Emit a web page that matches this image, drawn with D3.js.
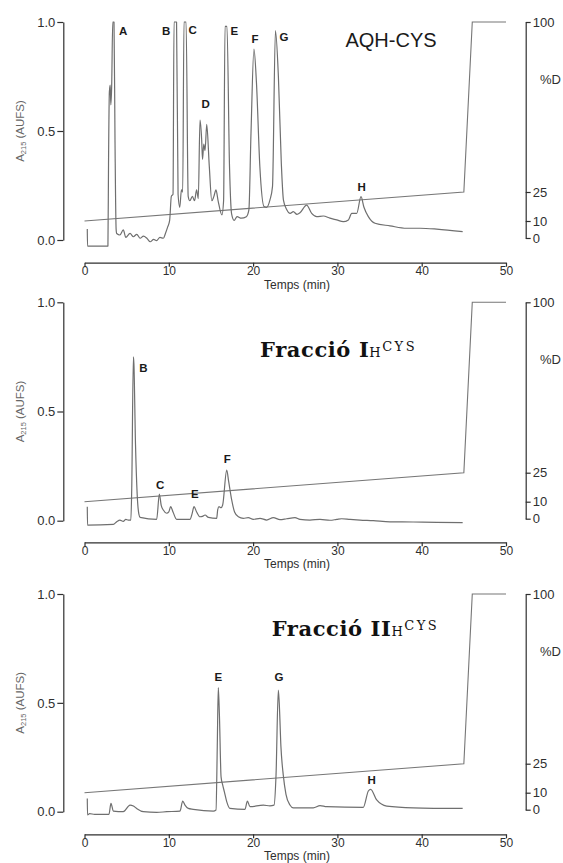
<!DOCTYPE html>
<html>
<head>
<meta charset="utf-8">
<script src="https://cdn.jsdelivr.net/npm/d3@7"></script>
<style>
  html, body { margin: 0; padding: 0; background: #fff; }
  svg { display: block; }
</style>
</head>
<body>
<svg id="chart" width="563" height="863"></svg>
<script>
// axis ticks
const timeTicks = [0, 10, 20, 30, 40, 50];
const absTicks = [0.0, 0.5, 1.0];
const pctTicks = [0, 10, 25, 100];

// gradient programme (%D)
const gradTime = [0, 45, 46, 50];
const gradPct = [10, 25, 100, 100];

// AQH-CYS trace
const timeAQH = [0.33, 0.36, 2.78, 2.85, 2.95, 3.05, 3.12, 3.22, 3.35, 3.5, 3.62, 3.75, 3.82, 4.2, 4.6, 4.9, 5.4, 5.8, 6.2, 6.6, 7.0, 7.4, 7.8, 8.2, 8.55, 8.95, 9.35, 9.6, 9.87, 10.1, 10.3, 10.5, 10.62, 10.92, 11.1, 11.3, 11.5, 11.65, 11.8, 12.05, 12.3, 12.5, 12.8, 13.05, 13.3, 13.5, 13.7, 13.9, 14.0, 14.15, 14.3, 14.5, 14.8, 15.1, 15.35, 15.6, 15.85, 16.3, 16.5, 16.67, 16.9, 17.2, 17.45, 17.75, 18.1, 18.6, 19.2, 19.5, 19.75, 20.1, 20.4, 20.8, 21.3, 21.6, 22.0, 22.3, 22.65, 23.0, 23.35, 23.6, 23.98, 24.4, 24.77, 25.2, 25.56, 26.35, 26.95, 27.54, 28.33, 29.12, 29.92, 30.7, 31.3, 31.7, 32.29, 32.8, 33.15, 33.67, 34.46, 36.24, 38.2, 39.8, 41.78, 44.86];
const absAQH = [0.05, -0.028, -0.028, 0.35, 0.68, 0.71, 0.62, 0.70, 1.0, 1.0, 0.45, 0.05, 0.03, 0.023, 0.046, 0.012, 0.03, 0.015, 0.026, 0.008, 0.018, 0.008, -0.008, 0.003, -0.003, 0.012, 0.008, 0.03, 0.06, 0.09, 0.2, 0.21, 1.0, 1.0, 0.21, 0.15, 0.23, 0.22, 1.0, 1.0, 0.2, 0.18, 0.2, 0.18, 0.23, 0.19, 0.55, 0.46, 0.37, 0.44, 0.41, 0.53, 0.34, 0.18, 0.2, 0.23, 0.18, 0.115, 0.18, 0.98, 0.98, 0.34, 0.12, 0.09, 0.107, 0.1, 0.107, 0.138, 0.49, 0.876, 0.72, 0.337, 0.153, 0.15, 0.184, 0.245, 0.96, 0.75, 0.35, 0.183, 0.14, 0.122, 0.13, 0.118, 0.125, 0.16, 0.122, 0.107, 0.11, 0.1, 0.092, 0.084, 0.092, 0.122, 0.122, 0.199, 0.15, 0.107, 0.077, 0.065, 0.054, 0.054, 0.05, 0.038];

// Fracció I trace
const timeFrI = [0.33, 0.36, 3.42, 3.82, 4.2, 4.6, 4.9, 5.2, 5.5, 5.6, 5.8, 5.86, 6.05, 6.25, 6.45, 6.6, 8.56, 8.88, 9.1, 9.35, 9.75, 10.0, 10.22, 10.5, 10.93, 12.51, 12.75, 12.99, 13.3, 13.7, 14.0, 14.3, 14.7, 15.68, 15.8, 15.95, 16.2, 16.39, 16.87, 17.1, 17.46, 17.8, 18.25, 18.84, 19.43, 20.02, 20.82, 21.61, 22.4, 23.19, 23.98, 24.97, 25.56, 26.75, 27.94, 29.12, 29.92, 30.5, 31.5, 32.68, 34.26, 36.24, 39.0, 41.78, 44.86];
const absFrI = [0.064, -0.02, -0.017, -0.005, 0.003, -0.003, 0.006, 0.003, 0.003, 0.14, 0.75, 0.72, 0.35, 0.12, 0.03, 0.015, 0.006, 0.122, 0.07, 0.049, 0.034, 0.04, 0.064, 0.04, 0.006, 0.006, 0.03, 0.064, 0.04, 0.018, 0.02, 0.026, 0.015, 0.011, 0.05, 0.064, 0.06, 0.072, 0.232, 0.18, 0.095, 0.04, 0.018, 0.011, 0.014, 0.006, 0.011, 0.003, 0.014, 0.005, 0.009, 0.014, 0.006, 0.003, 0.006, 0.002, 0.006, 0.009, 0.006, 0.003, 0.0, -0.005, -0.006, -0.008, -0.009];

// Fracció II trace
const timeFrII = [0.33, 0.36, 0.6, 1.2, 2.9, 3.14, 3.42, 4.6, 5.4, 5.8, 6.19, 6.98, 8.56, 9.75, 11.33, 11.65, 11.92, 12.31, 12.9, 15.28, 15.6, 15.75, 15.87, 16.0, 16.2, 16.39, 16.6, 16.87, 17.26, 19.04, 19.32, 19.63, 21.21, 22.0, 22.48, 22.72, 22.99, 23.1, 23.3, 23.58, 23.9, 24.37, 24.77, 27.14, 27.94, 28.73, 33.07, 33.67, 33.95, 34.66, 35.85, 39.0, 44.86];
const absFrII = [0.061, -0.015, -0.009, -0.012, -0.012, 0.038, 0.003, 0.0, 0.03, 0.026, 0.015, 0.0, -0.003, 0.0, 0.003, 0.049, 0.03, 0.015, 0.011, 0.003, 0.008, 0.3, 0.57, 0.45, 0.16, 0.123, 0.09, 0.046, 0.015, 0.011, 0.049, 0.023, 0.03, 0.027, 0.03, 0.168, 0.559, 0.5, 0.3, 0.168, 0.08, 0.031, 0.018, 0.018, 0.028, 0.023, 0.02, 0.095, 0.103, 0.054, 0.026, 0.018, 0.015];

// peak labels (anchored at time / absorbance)
const peaksAQH = ['A', 'B', 'C', 'D', 'E', 'F', 'G', 'H'];
const peakTimeAQH = [4.6, 9.69, 12.84, 14.38, 17.77, 20.23, 23.67, 32.88];
const peakAbsAQH = [0.94, 0.94, 0.944, 0.606, 0.94, 0.904, 0.914, 0.226];

const peaksFrI = ['B', 'C', 'E', 'F'];
const peakTimeFrI = [6.98, 8.96, 13.1, 16.94];
const peakAbsFrI = [0.682, 0.144, 0.103, 0.263];

const peaksFrII = ['E', 'G', 'H'];
const peakTimeFrII = [15.87, 23.07, 34.07];
const peakAbsFrII = [0.6, 0.6, 0.126];

const svg = d3.select('#chart');
const sans = 'Liberation Sans, Arial, Helvetica, sans-serif';
const serif = 'DejaVu Serif, Georgia, serif';
const traceColor = '#6f6f6f';
const axisColor = '#2f2f2f';

const x = d3.scaleLinear().domain([0, 50]).range([84.5, 506]);

const panels = [
    { top: 22, zero: 240, axisY: 262.7, time: timeAQH, abs: absAQH,
      peaks: peaksAQH, peakTime: peakTimeAQH, peakAbs: peakAbsAQH, title: 'AQH-CYS' },
    { top: 302.3, zero: 520.7, axisY: 542.3, time: timeFrI, abs: absFrI,
      peaks: peaksFrI, peakTime: peakTimeFrI, peakAbs: peakAbsFrI, title: 'I', tx: 260, ty: 356.7 },
    { top: 594, zero: 811.7, axisY: 834.3, time: timeFrII, abs: absFrII,
      peaks: peaksFrII, peakTime: peakTimeFrII, peakAbs: peakAbsFrII, title: 'II', tx: 271.7, ty: 635.7 }
];

const styleAxis = g => {
    g.selectAll('path, line').attr('stroke', axisColor).attr('stroke-width', 1.2);
    g.selectAll('text').attr('fill', axisColor).attr('font-family', sans);
};

panels.forEach((p, i) => {
    const y = d3.scaleLinear().domain([0, 1]).range([p.zero, p.top]);
    const pct = d3.scaleLinear().domain(pctTicks)
        .range([p.zero - 2, p.zero - 19, p.zero - 48, p.top]);

    const g = svg.append('g').attr('class', 'panel' + i);

    // left axis
    g.append('g')
        .attr('transform', 'translate(63.3,0)')
        .call(d3.axisLeft(y).tickValues(absTicks).tickFormat(d3.format('.1f'))
            .tickSize(6).tickSizeOuter(0).tickPadding(2))
        .call(styleAxis)
        .call(a => a.selectAll('text').attr('font-size', 13));

    // right axis (%D)
    g.append('g')
        .attr('transform', 'translate(525.7,0)')
        .call(d3.axisRight(pct).tickValues(pctTicks).tickSize(5).tickSizeOuter(0).tickPadding(2))
        .call(styleAxis)
        .call(a => a.selectAll('text').attr('font-size', 13));

    // bottom axis
    g.append('g')
        .attr('transform', `translate(0,${p.axisY})`)
        .call(d3.axisBottom(x).tickValues(timeTicks).tickSize(4).tickSizeOuter(0).tickPadding(0))
        .call(styleAxis)
        .call(a => a.selectAll('text').attr('font-size', 12));

    g.append('text')
        .attr('x', 297).attr('y', p.axisY + 26)
        .attr('text-anchor', 'middle')
        .attr('font-family', sans).attr('font-size', 12)
        .attr('fill', axisColor)
        .text('Temps (min)');

    // y label
    const yl = g.append('text')
        .attr('transform', `translate(24,${(p.top + p.zero) / 2}) rotate(-90)`)
        .attr('text-anchor', 'middle')
        .attr('font-family', sans).attr('font-size', 11.5)
        .attr('fill', '#666');
    yl.append('tspan').text('A');
    yl.append('tspan').attr('font-size', 7.5).attr('dy', 2).text('215');
    yl.append('tspan').attr('dy', -2).text(' (AUFS)');

    g.append('text')
        .attr('x', 540).attr('y', p.top + 62)
        .attr('font-family', sans).attr('font-size', 13)
        .attr('fill', axisColor)
        .text('%D');

    // gradient line
    const gradLine = d3.line().x(d => x(d[0])).y(d => pct(d[1]));
    g.append('path')
        .attr('d', gradLine(d3.zip(gradTime, gradPct)))
        .attr('fill', 'none')
        .attr('stroke', '#777')
        .attr('stroke-width', 1.1);

    // chromatogram
    const trace = d3.line().x(d => x(d[0])).y(d => y(d[1]))
        .curve(d3.curveMonotoneX);
    g.append('path')
        .attr('d', trace(d3.zip(p.time, p.abs)))
        .attr('fill', 'none')
        .attr('stroke', traceColor)
        .attr('stroke-width', 1.2)
        .attr('stroke-linejoin', 'round');

    // peak labels
    g.selectAll('.peak')
        .data(d3.zip(p.peaks, p.peakTime, p.peakAbs))
        .enter()
        .append('text')
        .attr('class', 'peak')
        .attr('x', d => x(d[1]))
        .attr('y', d => y(d[2]))
        .attr('text-anchor', 'middle')
        .attr('font-family', sans)
        .attr('font-weight', 'bold')
        .attr('font-size', 11.5)
        .attr('fill', '#1a1a1a')
        .text(d => d[0]);

    // titles
    if (i === 0) {
        g.append('text')
            .attr('x', 391).attr('y', 47)
            .attr('text-anchor', 'middle')
            .attr('font-family', sans).attr('font-size', 20)
            .attr('fill', '#1a1a1a')
            .text(p.title);
    } else {
        const t = g.append('text')
            .attr('x', p.tx).attr('y', p.ty)
            .attr('font-family', serif)
            .attr('fill', '#111');
        t.append('tspan').attr('font-size', 21).attr('font-weight', 'bold')
            .attr('letter-spacing', 0.6).text('Fracció ' + p.title);
        t.append('tspan').attr('font-size', 13).attr('letter-spacing', 1.5).text('H');
        t.append('tspan').attr('font-size', 13).attr('letter-spacing', 2.5)
            .attr('dy', -6).text('CYS');
    }
});
</script>
</body>
</html>
